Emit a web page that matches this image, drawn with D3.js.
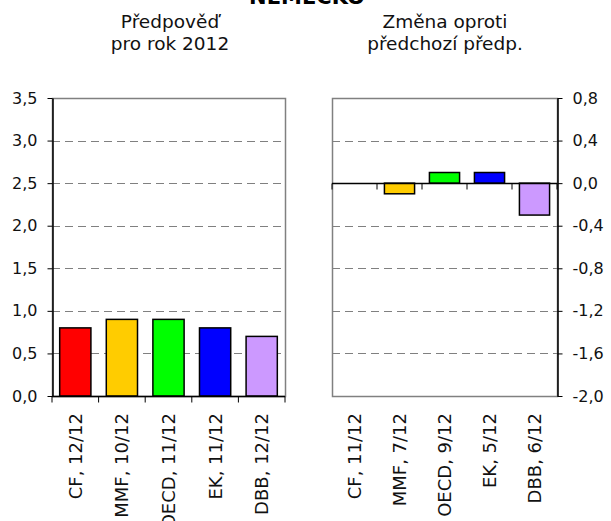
<!DOCTYPE html>
<html><head><meta charset="utf-8">
<script src="https://cdn.jsdelivr.net/npm/d3@7"></script>
<style>body{margin:0;background:#fff}svg{display:block}</style>
</head><body>
<script>
const title = "NĚMECKO";
const leftTitle = ["Předpověď", "pro rok 2012"];
const rightTitle = ["Změna oproti", "předchozí předp."];
const leftCats = ["CF, 12/12", "MMF, 10/12", "OECD, 11/12", "EK, 11/12", "DBB, 12/12"];
const leftVals = [0.8, 0.9, 0.9, 0.8, 0.7];
const rightCats = ["CF, 11/12", "MMF, 7/12", "OECD, 9/12", "EK, 5/12", "DBB, 6/12"];
const rightVals = [0.0, -0.1, 0.1, 0.1, -0.3];
const colors = ["#ff0000", "#ffcc00", "#00ff00", "#0000ff", "#cc99ff"];
const leftTicks = [0, 0.5, 1.0, 1.5, 2.0, 2.5, 3.0, 3.5];
const rightTicks = [-2.0, -1.6, -1.2, -0.8, -0.4, 0.0, 0.4, 0.8];

const W = 611, H = 521;
const FONT = "'DejaVu Sans', Verdana, sans-serif";
const svg = d3.select("body").append("svg").attr("width", W).attr("height", H)
  .style("font-family", FONT);

const fmt = v => d3.format(".1f")(v).replace(".", ",").replace("−", "-");
const plotTop = 98, plotBottom = 396;
const gray = "#808080";

// title (cut off at top edge as in reference)
svg.append("text").attr("x", 307).attr("y", 3.5).attr("text-anchor", "middle")
  .attr("font-weight", "bold").attr("font-size", 21).text(title);

function subtitle(lines, cx) {
  lines.forEach((l, i) => svg.append("text").attr("x", cx).attr("y", 28 + i * 22)
    .attr("text-anchor", "middle").attr("font-size", 18.5).attr("fill", "#111").text(l));
}
subtitle(leftTitle, 170);
subtitle(rightTitle, 445);

function panel(opts) {
  const {x0, x1, cats, vals, domain, ticks, side} = opts;
  const g = svg.append("g");
  const x = d3.scaleBand().domain(cats).range([x0, x1]).paddingInner(0.33).paddingOuter(0.165);
  const y = d3.scaleLinear().domain(domain).range([plotBottom, plotTop]);
  g.selectAll("line.grid").data(ticks.filter(t => t !== domain[0] && t !== domain[1] && t !== 0))
    .join("line").attr("x1", x0).attr("x2", x1)
    .attr("y1", d => Math.round(y(d)) + 0.5).attr("y2", d => Math.round(y(d)) + 0.5)
    .attr("stroke", gray).attr("stroke-width", 1).attr("stroke-dasharray", "8,5");
  g.append("rect").attr("x", x0 + 0.5).attr("y", plotTop + 0.5).attr("width", x1 - x0).attr("height", plotBottom - plotTop)
    .attr("fill", "none").attr("stroke", gray).attr("stroke-width", 1.5);
  g.selectAll("rect.bar").data(vals.map((v, i) => ({c: cats[i], v, i})).filter(d => d.v !== 0))
    .join("rect").attr("x", d => x(d.c)).attr("width", x.bandwidth())
    .attr("y", d => y(Math.max(0, d.v))).attr("height", d => Math.abs(y(d.v) - y(0)))
    .attr("fill", d => colors[d.i]).attr("stroke", "#000").attr("stroke-width", 1.5);
  const axis = side === "left" ? d3.axisLeft(y) : d3.axisRight(y);
  const ag = g.append("g").attr("transform", `translate(${side === "left" ? x0 + 0.5 : x1 + 0.5},0)`)
    .call(axis.tickValues(ticks).tickFormat(fmt).tickSize(5).tickPadding(10).tickSizeOuter(0));
  ag.select(".domain").attr("stroke", "#000").attr("stroke-width", 1.5);
  ag.selectAll(".tick line").attr("stroke", "#000");
  ag.selectAll("text").attr("font-size", 16).attr("fill", "#111").style("font-family", FONT);
  const cg = g.append("g").attr("transform", `translate(0,${Math.round(y(0)) + 0.5})`);
  cg.append("line").attr("x1", x0).attr("x2", x1).attr("stroke", "#000").attr("stroke-width", 1.5);
  const edges = d3.range(cats.length + 1).map(i => x0 + i * (x1 - x0) / cats.length);
  cg.selectAll("line.t").data(edges).join("line").attr("x1", d => d).attr("x2", d => d)
    .attr("y1", 0).attr("y2", 6).attr("stroke", "#000");
  g.selectAll("text.cat").data(cats).join("text")
    .attr("transform", d => `translate(${x(d) + x.bandwidth() / 2},${plotBottom + 17}) rotate(-90)`)
    .attr("dy", "0.36em").attr("text-anchor", "end").attr("font-size", 18)
    .attr("fill", "#111").text(d => d);
}

panel({x0: 52, x1: 285, cats: leftCats, vals: leftVals, domain: [0, 3.5], ticks: leftTicks, side: "left"});
panel({x0: 332, x1: 557, cats: rightCats, vals: rightVals, domain: [-2.0, 0.8], ticks: rightTicks, side: "right"});
</script>
</body></html>
